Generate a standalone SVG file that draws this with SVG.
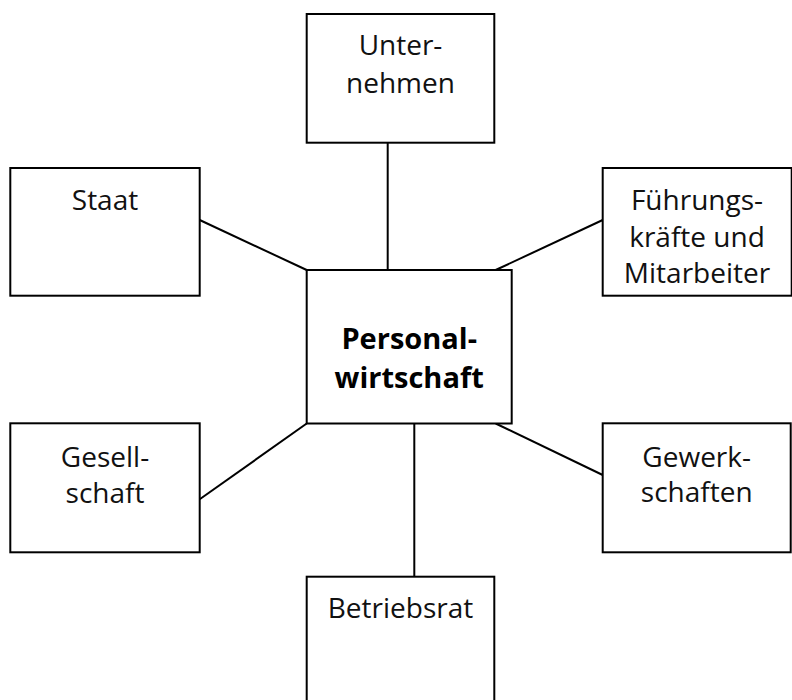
<svg xmlns="http://www.w3.org/2000/svg" width="792" height="700" viewBox="0 0 792 700">
<style>
.box{fill:#fff;stroke:#000;stroke-width:2}
.ln{stroke:#000;stroke-width:2;fill:none}
.t{font-family:"Open Sans","Noto Sans",sans-serif;font-size:28px;fill:#111;text-anchor:middle}
.b{font-family:"Open Sans","Noto Sans",sans-serif;font-size:29px;font-weight:bold;fill:#000;text-anchor:middle}
</style>
<rect width="792" height="700" fill="#fff"/>
<g id="connectors">
<line class="ln" x1="387.7" y1="142.7" x2="387.7" y2="270"/>
<line class="ln" x1="199.7" y1="220" x2="306.7" y2="270"/>
<line class="ln" x1="602.7" y1="220" x2="495.7" y2="270"/>
<line class="ln" x1="199.7" y1="499.3" x2="306.7" y2="423.5"/>
<line class="ln" x1="602.7" y1="475" x2="495.7" y2="423.5"/>
<line class="ln" x1="414.3" y1="423.5" x2="414.3" y2="576.7"/>
</g>
<g id="unternehmen">
<rect class="box" x="306.7" y="14" width="187.6" height="128.7"/>
<text class="t" x="400.5" y="55">Unter-</text>
<text class="t" x="400.5" y="93">nehmen</text>
</g>
<g id="staat">
<rect class="box" x="10.3" y="168" width="189.4" height="127.7"/>
<text class="t" x="105" y="210">Staat</text>
</g>
<g id="fuehrungskraefte">
<rect class="box" x="602.7" y="168" width="189" height="127.7"/>
<text class="t" x="697" y="210">Führungs-</text>
<text class="t" x="697" y="246.7">kräfte und</text>
<text class="t" x="697" y="283.3">Mitarbeiter</text>
</g>
<g id="personalwirtschaft">
<rect class="box" x="306.7" y="270" width="205" height="153.5"/>
<text class="b" x="409.2" y="349.3">Personal-</text>
<text class="b" x="409.2" y="387.7">wirtschaft</text>
</g>
<g id="gesellschaft">
<rect class="box" x="10.3" y="423.3" width="189.4" height="129"/>
<text class="t" x="105" y="466.7">Gesell-</text>
<text class="t" x="105" y="502.7">schaft</text>
</g>
<g id="gewerkschaften">
<rect class="box" x="602.7" y="423.3" width="188" height="129"/>
<text class="t" x="696.7" y="466.7">Gewerk-</text>
<text class="t" x="696.7" y="502">schaften</text>
</g>
<g id="betriebsrat">
<rect class="box" x="306.7" y="576.7" width="187.6" height="140"/>
<text class="t" x="400.5" y="617.7">Betriebsrat</text>
</g>
</svg>
